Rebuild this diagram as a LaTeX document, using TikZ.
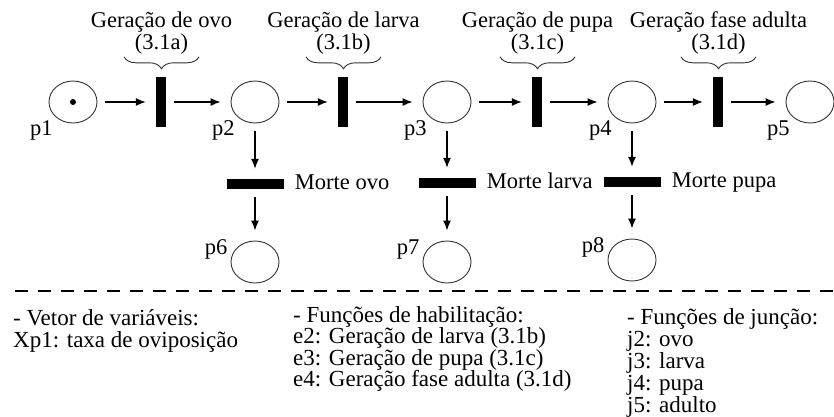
\documentclass[tikz,border=0pt]{standalone}
\usepackage{fontspec}
\setmainfont{Liberation Serif}
\usetikzlibrary{arrows.meta,positioning,shapes.geometric,decorations.pathreplacing}

\tikzset{
    place/.style={draw=black!80, line width=0.9pt, ellipse, minimum width=48pt, minimum height=42pt, inner sep=0pt},
    trans/.style={fill=black, minimum width=10pt, minimum height=50pt, inner sep=0pt},
    death/.style={fill=black, minimum width=57pt, minimum height=10pt, inner sep=0pt},
    arc/.style={-{Latex[length=10pt,width=8pt]}, line width=1.2pt, shorten <=8pt, shorten >=10pt},
    txt/.style={font=\fontsize{22.5}{22.5}\selectfont, inner sep=3pt},
    dlab/.style={txt, text height=15pt, text depth=5pt},
    note/.style={font=\fontsize{23}{22}\selectfont, align=left, inner sep=0pt, anchor=north west},
    brc/.style={decorate, decoration={brace, mirror, amplitude=12pt}, line width=0.9pt, draw=black!80}
}

\begin{document}
\begin{tikzpicture}[x=1pt,y=1pt]
        \useasboundingbox (0,0) rectangle (834,-416);

        % main row
        \node[place] (p1) at (73,-102) {};
        \node[trans] (t1) at (161,-102) {};
        \node[place] (p2) at (255,-102) {};
        \node[trans] (t2) at (343,-102) {};
        \node[place] (p3) at (447,-102) {};
        \node[trans] (t3) at (537,-102) {};
        \node[place] (p4) at (632,-102) {};
        \node[trans] (t4) at (718,-102) {};
        \node[place] (p5) at (810,-102) {};
        \fill (p1) circle[radius=3pt];

        \foreach \a/\b in {p1/t1, t1/p2, p2/t2, t2/p3, p3/t3, t3/p4, p4/t4, t4/p5}
            \draw[arc] (\a) -- (\b);

        \foreach \p in {p1,p2,p3,p4,p5}
            \node[txt, below left] (\p lab) at (\p.south west) {\p};

        % braces and names of the transitions
        \foreach \t/\name/\eq in {t1/Geração de ovo/a, t2/Geração de larva/b, t3/Geração de pupa/c, t4/Geração fase adulta/d}
            \draw[brc] ([shift={(-37,20)}]\t.north) -- ([shift={(38,20)}]\t.north)
                node[txt, midway, above=-1pt, align=center] (\t lab) {\name\\(3.1\eq)};

        % deaths
        \node[death] (td1) at (255,-184) {};
        \node[death] (td2) at (447,-183) {};
        \node[death] (td3) at (632,-182) {};
        \node[dlab, right=8pt of td1] (td1lab) {Morte ovo};
        \node[dlab, right=8pt of td2] (td2lab) {Morte larva};
        \node[dlab, right=8pt of td3] (td3lab) {Morte pupa};

        \node[place] (p6) at (255,-262) {};
        \node[place] (p7) at (447,-262) {};
        \node[place] (p8) at (632,-260) {};
        \foreach \p in {p6,p7,p8}
            \node[txt, above left] (\p lab) at (\p.west) {\p};

        \draw[arc] (p2) -- (td1);
        \draw[arc] (td1) -- (p6);
        \draw[arc] (p3) -- (td2);
        \draw[arc] (td2) -- (p7);
        \draw[arc] (p4) -- (td3);
        \draw[arc] (td3) -- (p8);

        % legend
        \draw[line width=2pt, dash pattern=on 13pt off 10pt] (15,-291) -- (834,-291);
        \node[note] (vars) at (13,-309) {- Vetor de variáveis:\\Xp1: taxa de oviposição};
        \node[note, font=\fontsize{23}{21.5}\selectfont] (enab) at (293,-306) {- Funções de habilitação:\\e2: Geração de larva (3.1b)\\e3: Geração de pupa (3.1c)\\e4: Geração fase adulta (3.1d)};
        \node[note] (junc) at (627,-308) {- Funções de junção:\\j2: ovo\\j3: larva\\j4: pupa\\j5: adulto};
    \end{tikzpicture}
\end{document}
